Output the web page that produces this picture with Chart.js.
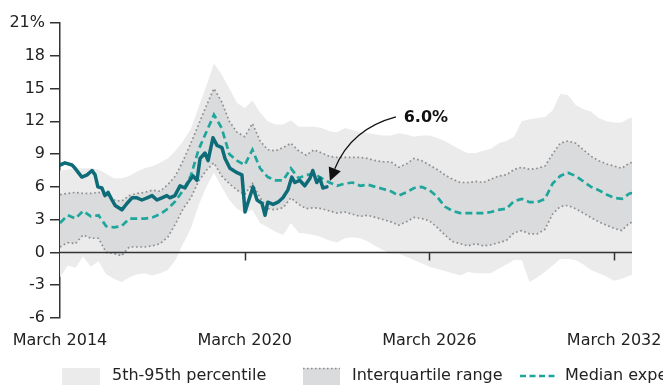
<!DOCTYPE html>
<html>
<head>
<meta charset="utf-8">
<script src="https://cdn.jsdelivr.net/npm/chart.js@4/dist/chart.umd.min.js"></script>
<style>
  html, body { margin: 0; padding: 0; background: #fff; }
  #wrap { width: 663px; height: 385px; position: relative; }
</style>
</head>
<body>
<div id="wrap"><canvas id="chart"></canvas></div>
<script>
// Datas trimestrais das bandas (março 2014 em diante)
const quarterStart = 2014.17;
const xEnd = 2032.75;

// Mediana e percentis, um valor por trimestre
const median = [2.7, 3.4, 3.1, 3.8, 3.3, 3.4, 2.4, 2.3, 2.4, 3.1, 3.1, 3.1, 3.2, 3.5, 4.0, 4.7, 5.7, 7.0, 9.4, 11.0,
  12.6, 11.4, 9.0, 8.4, 8.0, 9.4, 7.7, 6.9, 6.6, 6.6, 7.7, 6.8, 7.1, 7.2, 6.8, 6.4, 6.1, 6.3, 6.4, 6.1,
  6.2, 6.0, 5.8, 5.6, 5.2, 5.5, 5.9, 6.0, 5.7, 5.1, 4.2, 3.8, 3.6, 3.6, 3.6, 3.6, 3.7, 3.9, 4.0, 4.7,
  4.9, 4.6, 4.6, 4.9, 6.3, 7.0, 7.3, 7.0, 6.5, 6.0, 5.7, 5.3, 5.0, 4.9, 5.4, 5.5];
const p75 = [5.3, 5.4, 5.5, 5.4, 5.4, 5.5, 5.3, 4.8, 4.7, 5.2, 5.4, 5.5, 5.7, 5.6, 6.2, 7.0, 8.4, 10.0, 11.7, 13.4,
  15.0, 13.8, 12.0, 11.0, 10.6, 11.8, 10.2, 9.4, 9.3, 9.6, 10.0, 9.3, 8.9, 9.4, 9.1, 8.8, 8.7, 8.7, 8.7, 8.7,
  8.6, 8.4, 8.3, 8.3, 7.8, 8.1, 8.6, 8.4, 8.0, 7.6, 7.1, 6.7, 6.4, 6.4, 6.5, 6.4, 6.7, 7.0, 7.1, 7.6,
  7.8, 7.6, 7.7, 7.9, 9.0, 10.0, 10.2, 10.0, 9.4, 8.8, 8.4, 8.1, 7.9, 7.7, 8.2, 8.3];
const p25 = [0.5, 0.9, 0.8, 1.6, 1.3, 1.3, 0.0, -0.1, -0.3, 0.5, 0.5, 0.5, 0.6, 0.8, 1.4, 2.6, 4.0, 5.0, 6.5, 7.5,
  8.2, 7.0, 6.3, 5.7, 5.3, 6.3, 5.0, 4.0, 3.9, 4.1, 5.0, 4.4, 4.0, 4.1, 4.0, 3.8, 3.6, 3.7, 3.5, 3.3,
  3.4, 3.2, 3.0, 2.8, 2.5, 2.8, 3.2, 3.1, 2.9, 2.3, 1.6, 1.0, 0.8, 0.6, 0.8, 0.6, 0.7, 0.9, 1.1, 1.8,
  2.0, 1.7, 1.7, 2.1, 3.5, 4.2, 4.3, 4.0, 3.6, 3.2, 2.8, 2.5, 2.2, 2.0, 2.7, 2.8];
const p95 = [7.5, 7.6, 7.7, 7.7, 7.7, 7.6, 7.2, 6.8, 6.8, 7.0, 7.4, 7.7, 7.9, 8.2, 8.6, 9.3, 10.2, 11.3, 13.3, 15.2,
  17.3, 16.3, 15.0, 13.7, 13.2, 13.9, 12.8, 12.0, 11.7, 11.7, 12.1, 11.5, 11.5, 11.5, 11.4, 11.1, 11.0, 11.4, 11.2, 11.0,
  10.9, 10.8, 10.7, 10.7, 10.9, 10.8, 10.6, 10.7, 10.7, 10.5, 10.2, 9.8, 9.4, 9.1, 9.1, 9.3, 9.5, 10.0, 10.2, 10.6,
  12.0, 12.2, 12.3, 12.4, 13.0, 14.5, 14.4, 13.5, 13.1, 12.9, 12.3, 12.0, 11.9, 11.9, 12.3, 12.4];
const p5 = [-2.3, -1.2, -1.4, -0.4, -1.3, -0.8, -2.0, -2.4, -2.7, -2.3, -2.0, -1.9, -2.1, -1.9, -1.6, -0.7, 0.8, 2.2, 4.3, 6.0,
  7.3, 6.0, 4.8, 4.0, 3.6, 3.9, 2.7, 2.3, 1.9, 1.6, 2.7, 1.8, 1.7, 1.6, 1.4, 1.1, 0.9, 1.3, 1.4, 1.3,
  1.0, 0.6, 0.2, -0.1, -0.1, -0.4, -0.7, -1.0, -1.3, -1.5, -1.7, -1.9, -2.1, -1.8, -1.9, -1.9, -1.9, -1.5, -1.1, -0.7,
  -0.7, -2.7, -2.3, -1.8, -1.2, -0.6, -0.6, -0.7, -1.1, -1.6, -1.9, -2.2, -2.6, -2.4, -2.1, -2.0];

// Série realizada (datas em anos decimais)
const actualDates = [2014.17, 2014.33, 2014.56, 2014.66, 2014.88, 2015.05, 2015.21, 2015.31, 2015.40, 2015.53,
  2015.63, 2015.73, 2015.86, 2015.96, 2016.18, 2016.35, 2016.51, 2016.67, 2016.83, 2017.00,
  2017.16, 2017.32, 2017.48, 2017.64, 2017.74, 2017.90, 2018.07, 2018.23, 2018.33, 2018.49,
  2018.62, 2018.72, 2018.88, 2018.98, 2019.14, 2019.27, 2019.43, 2019.53, 2019.69, 2019.92,
  2020.08, 2020.18, 2020.27, 2020.44, 2020.57, 2020.73, 2020.83, 2020.92, 2021.09, 2021.25,
  2021.41, 2021.57, 2021.70, 2021.80, 2021.96, 2022.12, 2022.29, 2022.38, 2022.51, 2022.61,
  2022.71, 2022.84];
const actualValues = [8.0, 8.2, 8.0, 7.7, 6.9, 7.1, 7.5, 7.1, 6.0, 5.9,
  5.2, 5.5, 4.8, 4.3, 3.9, 4.5, 5.0, 5.0, 4.8, 5.0,
  5.2, 4.8, 5.0, 5.2, 5.0, 5.2, 6.1, 5.9, 6.4, 7.0,
  6.6, 8.6, 9.1, 8.4, 10.5, 9.8, 9.6, 8.6, 7.7, 7.3,
  7.1, 3.7, 4.5, 6.0, 4.8, 4.5, 3.4, 4.6, 4.4, 4.6,
  5.0, 5.7, 6.9, 6.4, 6.6, 6.1, 6.8, 7.5, 6.4, 6.8,
  5.9, 6.0];

// Eixo x
const tickYears = [2014.17, 2020.17, 2026.17, 2032.17];
const tickLabels = ['March 2014', 'March 2020', 'March 2026', 'March 2032'];
const legendLabels = ['5th-95th percentile', 'Interquartile range', 'Median expectation'];
const calloutText = '6.0%';

const FONT = "'DejaVu Sans', sans-serif";
const TEXT = '#222222';
const AXIS = '#333333';
const LIGHT = '#ebebeb';
const MID = '#dadbdd';
const DOTS = '#8f8f8f';
const MEDIAN = '#1ea69c';
const ACTUAL = '#0d6c78';

function toPoints(values) {
  return values.map((v, i) => ({ x: quarterStart + i * 0.25, y: v }));
}

// Linha do zero, marcas do eixo x, seta e legenda
const extras = {
  id: 'extras',
  afterDatasetsDraw(chart) {
    const { ctx, scales, chartArea } = chart;
    const x = scales.x, y = scales.y;
    const y0 = Math.round(y.getPixelForValue(0)) + 0.5;
    ctx.save();
    ctx.strokeStyle = AXIS;
    ctx.lineWidth = 1.5;
    ctx.beginPath();
    ctx.moveTo(chartArea.left, y0);
    ctx.lineTo(chartArea.right, y0);
    ctx.stroke();
    tickYears.slice(1).forEach(t => {
      const px = Math.round(x.getPixelForValue(t)) + 0.5;
      ctx.beginPath();
      ctx.moveTo(px, y0);
      ctx.lineTo(px, y0 + 8);
      ctx.stroke();
    });

    // seta curva apontando para o último valor
    const lx = x.getPixelForValue(actualDates[actualDates.length - 1]);
    const ly = y.getPixelForValue(actualValues[actualValues.length - 1]);
    const tipX = lx + 3, tipY = ly - 6;
    const sx = lx + 69, sy = ly - 70;
    const cx = lx + 24, cy = ly - 58;
    const ang = Math.atan2(tipY - cy, tipX - cx);
    const headLen = 13, headW = 6.5;
    const bx = tipX - Math.cos(ang) * headLen, by = tipY - Math.sin(ang) * headLen;
    ctx.strokeStyle = '#111';
    ctx.lineWidth = 1.3;
    ctx.beginPath();
    ctx.moveTo(sx, sy);
    ctx.quadraticCurveTo(cx, cy, bx, by);
    ctx.stroke();
    ctx.fillStyle = '#111';
    ctx.beginPath();
    ctx.moveTo(tipX, tipY);
    ctx.lineTo(bx + Math.sin(ang) * headW, by - Math.cos(ang) * headW);
    ctx.lineTo(bx - Math.sin(ang) * headW, by + Math.cos(ang) * headW);
    ctx.closePath();
    ctx.fill();

    ctx.font = "bold 16px " + FONT;
    ctx.fillStyle = '#111';
    ctx.textAlign = 'center';
    ctx.textBaseline = 'middle';
    ctx.fillText(calloutText, lx + 99, ly - 69);
    ctx.restore();
  },
  afterDraw(chart) {
    const ctx = chart.ctx;
    const ly = 376;
    ctx.save();
    ctx.font = "16px " + FONT;
    ctx.textBaseline = 'middle';
    ctx.textAlign = 'left';

    ctx.fillStyle = LIGHT;
    ctx.fillRect(62, 368, 38, 17);
    ctx.fillStyle = TEXT;
    ctx.fillText(legendLabels[0], 112, ly);

    ctx.fillStyle = MID;
    ctx.fillRect(303, 368, 37, 17);
    ctx.strokeStyle = DOTS;
    ctx.lineWidth = 1.5;
    ctx.setLineDash([1.5, 2.5]);
    ctx.beginPath();
    ctx.moveTo(303, 368.5);
    ctx.lineTo(340, 368.5);
    ctx.stroke();
    ctx.fillStyle = TEXT;
    ctx.fillText(legendLabels[1], 352, ly);

    ctx.strokeStyle = MEDIAN;
    ctx.lineWidth = 2.5;
    ctx.setLineDash([6, 3.5]);
    ctx.beginPath();
    ctx.moveTo(520, ly);
    ctx.lineTo(557, ly);
    ctx.stroke();
    ctx.setLineDash([]);
    ctx.fillText(legendLabels[2], 565, ly);
    ctx.restore();
  }
};

const lineBase = { pointRadius: 0, tension: 0, fill: false };

new Chart(document.getElementById('chart'), {
  type: 'line',
  data: {
    datasets: [
      Object.assign({}, lineBase, {
        label: 'Actual',
        data: actualDates.map((d, i) => ({ x: d, y: actualValues[i] })),
        borderColor: ACTUAL, borderWidth: 3.5, borderJoinStyle: 'round', borderCapStyle: 'round'
      }),
      Object.assign({}, lineBase, {
        label: legendLabels[2],
        data: toPoints(median),
        borderColor: MEDIAN, borderWidth: 2.7, borderDash: [7, 4]
      }),
      Object.assign({}, lineBase, {
        label: '25th',
        data: toPoints(p25),
        borderColor: DOTS, borderWidth: 1.7, borderDash: [1.7, 2.6]
      }),
      Object.assign({}, lineBase, {
        label: legendLabels[1],
        data: toPoints(p75),
        borderColor: DOTS, borderWidth: 1.7, borderDash: [1.7, 2.6],
        fill: '-1', backgroundColor: MID
      }),
      Object.assign({}, lineBase, {
        label: '5th',
        data: toPoints(p5),
        borderWidth: 0, borderColor: 'rgba(0,0,0,0)'
      }),
      Object.assign({}, lineBase, {
        label: legendLabels[0],
        data: toPoints(p95),
        borderWidth: 0, borderColor: 'rgba(0,0,0,0)',
        fill: '-1', backgroundColor: LIGHT
      })
    ]
  },
  options: {
    responsive: true,
    maintainAspectRatio: false,
    animation: false,
    layout: { padding: { top: 23, right: 31, left: 0, bottom: 0 } },
    plugins: { legend: { display: false }, tooltip: { enabled: false } },
    scales: {
      x: {
        type: 'linear',
        min: quarterStart,
        max: xEnd,
        border: { display: false },
        grid: { display: false, drawTicks: false, tickLength: 0 },
        afterBuildTicks: s => { s.ticks = tickYears.map(v => ({ value: v })); },
        afterFit: s => { s.height = 67; s.paddingLeft = 0; s.paddingRight = 0; },
        ticks: {
          autoSkip: false, maxRotation: 0, padding: 13,
          color: TEXT, font: { family: FONT, size: 16 },
          callback: (v) => tickLabels[tickYears.indexOf(v)]
        }
      },
      y: {
        min: -6, max: 21,
        afterFit: s => { s.width = 60; },
        border: { display: true, color: AXIS, width: 1.5 },
        grid: {
          drawTicks: true, tickLength: 10,
          tickColor: AXIS,
          color: 'rgba(0,0,0,0)',
          lineWidth: 1.5
        },
        ticks: {
          stepSize: 3, padding: 5,
          color: TEXT, font: { family: FONT, size: 16 },
          callback: v => (v === 21 ? '21%' : String(v))
        }
      }
    }
  },
  plugins: [extras]
});
</script>
</body>
</html>
